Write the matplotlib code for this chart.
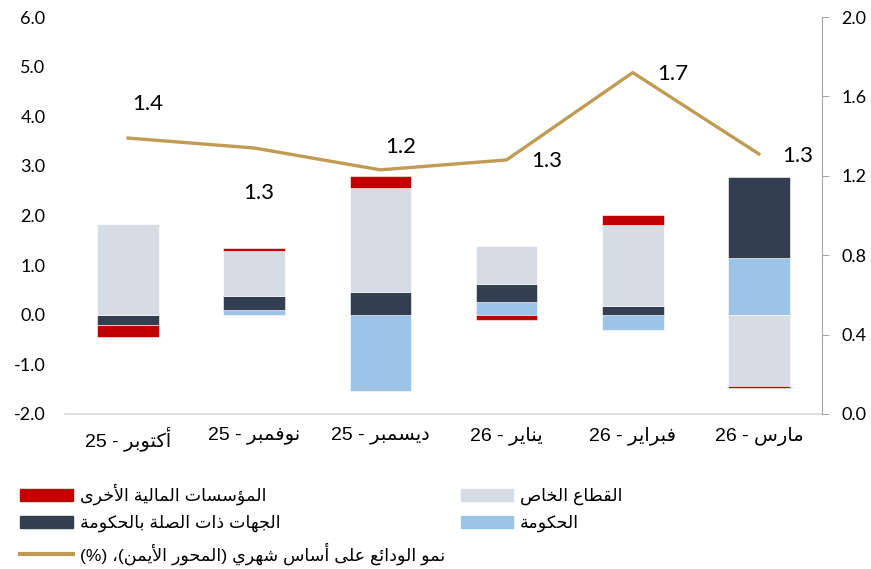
import re
import matplotlib
matplotlib.use('Agg')
import matplotlib.pyplot as plt
from matplotlib.patches import Patch
from matplotlib.lines import Line2D

# --- data ---
months = ['أكتوبر', 'نوفمبر', 'ديسمبر', 'يناير', 'فبراير', 'مارس']
years = ['25', '25', '25', '26', '26', '26']

gov = [0.0, 0.09, -1.54, 0.26, -0.30, 1.14]          # الحكومة
gre = [-0.20, 0.28, 0.45, 0.35, 0.18, 1.64]          # الجهات ذات الصلة بالحكومة
private = [1.83, 0.92, 2.11, 0.77, 1.62, -1.43]      # القطاع الخاص
other_fi = [-0.24, 0.06, 0.23, -0.10, 0.22, -0.05]   # المؤسسات المالية الأخرى
growth = [1.39, 1.34, 1.23, 1.28, 1.72, 1.31]        # right axis

lbl_gov = 'الحكومة'
lbl_gre = 'الجهات ذات الصلة بالحكومة'
lbl_private = 'القطاع الخاص'
lbl_other = 'المؤسسات المالية الأخرى'
lbl_growth = 'نمو الودائع على أساس شهري (المحور الأيمن)، (%)'

# --- minimal arabic shaping (matplotlib draws glyphs left to right, no joining) ---
_tbl = [('آ', 0xFE81, 2), ('أ', 0xFE83, 2), ('ؤ', 0xFE85, 2), ('إ', 0xFE87, 2),
        ('ئ', 0xFE89, 4), ('ا', 0xFE8D, 2), ('ب', 0xFE8F, 4), ('ة', 0xFE93, 2),
        ('ت', 0xFE95, 4), ('ث', 0xFE99, 4), ('ج', 0xFE9D, 4), ('ح', 0xFEA1, 4),
        ('خ', 0xFEA5, 4), ('د', 0xFEA9, 2), ('ذ', 0xFEAB, 2), ('ر', 0xFEAD, 2),
        ('ز', 0xFEAF, 2), ('س', 0xFEB1, 4), ('ش', 0xFEB5, 4), ('ص', 0xFEB9, 4),
        ('ض', 0xFEBD, 4), ('ط', 0xFEC1, 4), ('ظ', 0xFEC5, 4), ('ع', 0xFEC9, 4),
        ('غ', 0xFECD, 4), ('ف', 0xFED1, 4), ('ق', 0xFED5, 4), ('ك', 0xFED9, 4),
        ('ل', 0xFEDD, 4), ('م', 0xFEE1, 4), ('ن', 0xFEE5, 4), ('ه', 0xFEE9, 4),
        ('و', 0xFEED, 2), ('ى', 0xFEEF, 2), ('ي', 0xFEF1, 4)]
FORMS = {c: (b, n) for c, b, n in _tbl}
LAMALEF = {'آ': 0xFEF5, 'أ': 0xFEF7, 'إ': 0xFEF9, 'ا': 0xFEFB}


def ar(s):
    units = []
    i = 0
    while i < len(s):
        if s[i] == 'ل' and i + 1 < len(s) and s[i + 1] in LAMALEF:
            units.append(('LA', LAMALEF[s[i + 1]]))
            i += 2
        else:
            units.append((s[i], None))
            i += 1

    def is_ar(u):
        return u[0] == 'LA' or u[0] in FORMS

    def dual(u):
        return u[0] in FORMS and FORMS[u[0]][1] == 4

    out = []
    for k, u in enumerate(units):
        if not is_ar(u):
            out.append(u[0])
            continue
        prev = k > 0 and dual(units[k - 1])
        nxt = dual(u) and k + 1 < len(units) and is_ar(units[k + 1])
        if u[0] == 'LA':
            out.append(chr(u[1] + (1 if prev else 0)))
            continue
        base = FORMS[u[0]][0]
        if prev and nxt:
            out.append(chr(base + 3))
        elif nxt:
            out.append(chr(base + 2))
        elif prev:
            out.append(chr(base + 1))
        else:
            out.append(chr(base))
    # visual order: reverse, mirror brackets, keep number runs readable
    vis = ''.join(out)[::-1]
    vis = vis.translate(str.maketrans('()', ')('))
    vis = re.sub(r'[0-9.%]+', lambda m: m.group(0)[::-1], vis)
    return vis


# --- colours ---
c_gov = '#9DC3E6'
c_gre = '#333F50'
c_private = '#D6DCE4'
c_other = '#C00000'
c_line = '#C09B53'

plt.rcParams['font.family'] = ['Liberation Sans', 'DejaVu Sans']

fig = plt.figure(figsize=(8.71, 5.69), dpi=100)
ax = fig.add_axes([65 / 871, 1 - 414 / 569, 757 / 871, 397 / 569])

x = list(range(len(months)))
width = 0.49
pos_base = [0.0] * len(x)
neg_base = [0.0] * len(x)
for vals, col in [(gov, c_gov), (gre, c_gre), (private, c_private), (other_fi, c_other)]:
    bottoms = []
    for i, v in enumerate(vals):
        if v >= 0:
            bottoms.append(pos_base[i])
            pos_base[i] += v
        else:
            bottoms.append(neg_base[i])
            neg_base[i] += v
    ax.bar(x, vals, width, bottom=bottoms, color=col, edgecolor='white', linewidth=0.4, zorder=2)

ax.set_xlim(-0.5, len(x) - 0.5)
ax.set_ylim(-2, 6)
ax.set_yticks([-2, -1, 0, 1, 2, 3, 4, 5, 6])
ax.set_yticklabels(['%.1f' % t for t in ax.get_yticks()], family='Lato', fontsize=13)
ax.set_xticks(x)
ax.set_xticklabels([y + ' - ' + ar(m) for m, y in zip(months, years)], fontsize=14)
ax.tick_params(axis='x', length=0, pad=9)
ax.tick_params(axis='y', length=0, pad=14)
for s in ['top', 'left', 'right']:
    ax.spines[s].set_visible(False)
ax.spines['bottom'].set_color('#D9D9D9')
ax.spines['bottom'].set_linewidth(1.2)

ax2 = ax.twinx()
ax2.plot(x, growth, color=c_line, linewidth=2.4, zorder=3)
ax2.set_ylim(0, 2)
ax2.set_yticks([0, 0.4, 0.8, 1.2, 1.6, 2.0])
ax2.set_yticklabels(['%.1f' % t for t in ax2.get_yticks()], family='Lato', fontsize=13)
ax2.tick_params(axis='y', direction='out', length=5, color='#A6A6A6', pad=9)
for s in ['top', 'left', 'bottom']:
    ax2.spines[s].set_visible(False)
ax2.spines['right'].set_color('#A6A6A6')

label_offsets = [(20, 34), (4, -45), (20, 23), (40, -1), (40, -1), (39, -2)]
for i, v in enumerate(growth):
    ax2.annotate('%.1f' % v, (x[i], v), xytext=label_offsets[i], textcoords='offset pixels',
                 ha='center', va='center', family='Lato', fontsize=16)

handles = [Patch(color=c_other), Patch(color=c_gre),
           Line2D([], [], color=c_line, linewidth=3),
           Patch(color=c_private), Patch(color=c_gov)]
labels = [ar(lbl_other), ar(lbl_gre), ar(lbl_growth), ar(lbl_private), ar(lbl_gov)]
fig.legend(handles, labels, ncol=2, loc='upper left', bbox_to_anchor=(20 / 871, 1 - 484 / 569),
           frameon=False, fontsize=12.6, handlelength=3.0, handleheight=0.72, handletextpad=0.4,
           labelspacing=0.55, columnspacing=0.9, borderpad=0, borderaxespad=0)

fig.savefig('out.png', dpi=100)
